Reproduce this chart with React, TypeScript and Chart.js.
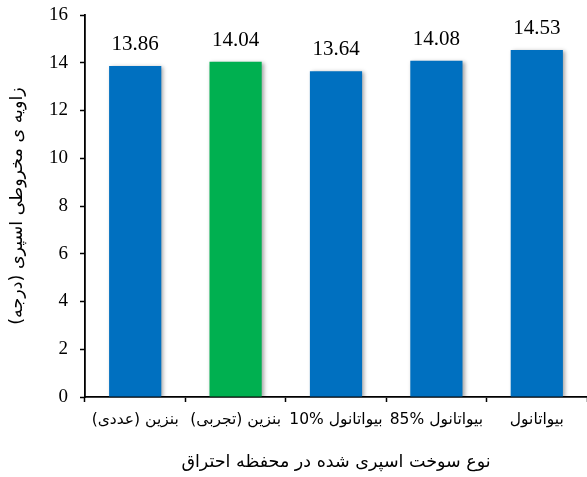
import React, { useEffect, useRef } from "react";
import { Chart, registerables } from "chart.js";

Chart.register(...registerables);

const categories = [
  "بنزین (عددی)",
  "بنزین (تجربی)",
  "بیواتانول \u200E10%",
  "بیواتانول \u200E85%",
  "بیواتانول",
];
const values = [13.86, 14.04, 13.64, 14.08, 14.53];
const barColors = ["#0070C0", "#00B050", "#0070C0", "#0070C0", "#0070C0"];
const yTitle = "زاویه ی مخروطی اسپری (درجه)";
const xTitle = "نوع سوخت اسپری شده در محفظه احتراق";
const yMin = 0;
const yMax = 16;

const shadowPlugin = {
  id: "barShadow",
  beforeDatasetsDraw(chart: any) {
    const ctx = chart.ctx;
    ctx.save();
    ctx.shadowColor = "rgba(0,0,0,0.35)";
    ctx.shadowBlur = 4;
    ctx.shadowOffsetX = 2;
    ctx.shadowOffsetY = 1;
  },
  afterDatasetsDraw(chart: any) {
    chart.ctx.restore();
  },
};

const valueLabelPlugin = {
  id: "valueLabels",
  afterDraw(chart: any) {
    const ctx = chart.ctx;
    const meta = chart.getDatasetMeta(0);
    const data = chart.data.datasets[0].data as number[];
    ctx.save();
    ctx.font = "21px 'Liberation Serif'";
    ctx.fillStyle = "#000";
    ctx.textAlign = "center";
    ctx.textBaseline = "alphabetic";
    meta.data.forEach((bar: any, i: number) => {
      ctx.fillText(data[i].toFixed(2), bar.x, bar.y - 16);
    });
    ctx.restore();
  },
};

export default function App() {
  const canvasRef = useRef<HTMLCanvasElement>(null);

  useEffect(() => {
    if (!canvasRef.current) return;
    const chart = new Chart(canvasRef.current, {
      type: "bar",
      data: {
        labels: categories,
        datasets: [
          {
            data: values,
            backgroundColor: barColors,
            borderWidth: 0,
            barPercentage: 0.52,
            categoryPercentage: 1,
          },
        ],
      },
      options: {
        animation: false,
        responsive: true,
        maintainAspectRatio: false,
        layout: { padding: { top: 15, right: 0, bottom: 0, left: 0 } },
        plugins: {
          legend: { display: false },
          tooltip: { enabled: false },
        },
        scales: {
          x: {
            offset: true,
            grid: {
              offset: true,
              drawOnChartArea: false,
              drawTicks: true,
              tickLength: 5,
              tickColor: "#000",
              tickWidth: 1.5,
            },
            border: { display: true, color: "#000", width: 1.8 },
            ticks: {
              color: "#000",
              font: { family: "'DejaVu Sans'", size: 15.5 },
              padding: 9,
              maxRotation: 0,
              autoSkip: false,
            },
            title: {
              display: true,
              text: xTitle,
              color: "#000",
              font: { family: "'DejaVu Sans'", size: 17.5 },
              padding: { top: 0, bottom: 4 },
            },
            afterFit(scale: any) {
              scale.height = 80;
              scale.paddingLeft = 0;
              scale.paddingRight = 0;
            },
          },
          y: {
            min: yMin,
            max: yMax,
            grid: {
              drawOnChartArea: false,
              drawTicks: true,
              tickLength: 5,
              tickColor: "#000",
              tickWidth: 1.5,
            },
            border: { display: true, color: "#000", width: 1.8 },
            ticks: {
              stepSize: 1,
              color: "#000",
              font: { family: "'Liberation Serif'", size: 19 },
              padding: 12,
              callback: (v: any) => (Number(v) % 2 === 0 ? String(v) : ""),
            },
            title: {
              display: true,
              text: yTitle,
              color: "#000",
              font: { family: "'DejaVu Sans'", size: 17.5 },
              padding: { top: 7, bottom: 0 },
            },
            afterFit(scale: any) {
              scale.width = 85;
              scale.paddingTop = 0;
              scale.paddingBottom = 0;
            },
          },
        },
      },
      plugins: [shadowPlugin, valueLabelPlugin],
    });
    return () => chart.destroy();
  }, []);

  return (
    <div style={{ position: "absolute", left: 0, top: 0, width: 587, height: 477 }}>
      <canvas ref={canvasRef} dir="rtl" />
    </div>
  );
}
